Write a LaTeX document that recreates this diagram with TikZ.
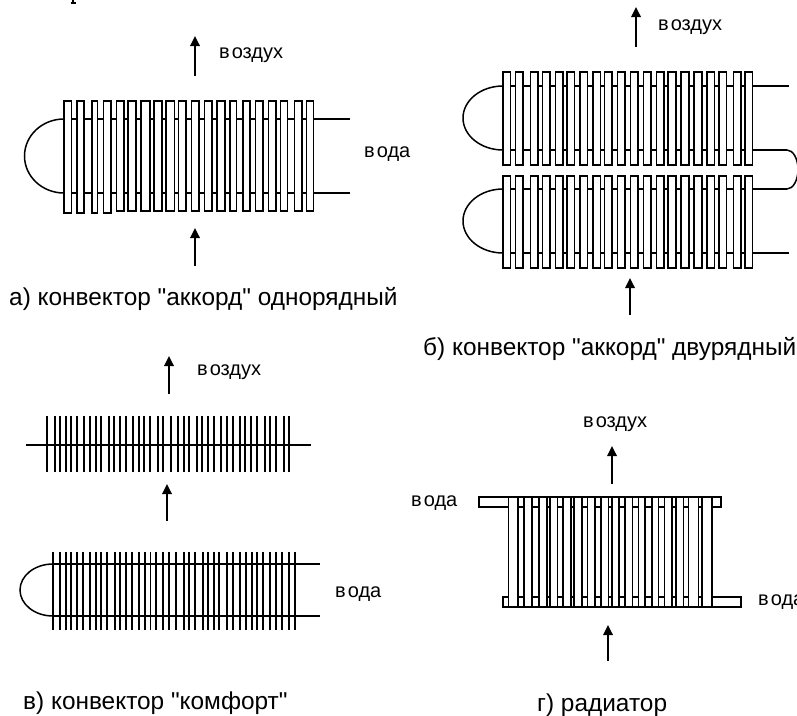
\documentclass[tikz,border=0pt]{standalone}
\usepackage{fontspec}
\setmainfont{Liberation Sans}[Ligatures=TeXOff]
\usetikzlibrary{arrows.meta}
\tikzset{
  pipeline/.style={draw=black,line width=1.5pt},
  fin/.style={draw=black,fill=white,line width=1.6pt},
  ticks/.style={draw=black,line width=1.9pt},
  flow/.style={draw=black,line width=1.8pt,-{Triangle[width=9.5pt,length=10pt]},shorten >=0pt},
  lbl/.style={anchor=base west,inner sep=0pt,font=\fontsize{20}{24}\selectfont},
  captiontext/.style={anchor=base west,inner sep=0pt,font=\fontsize{24.4}{28}\selectfont}
}
\newcommand{\vozduh}{в\kern2pt оздух}
\newcommand{\voda}{в\kern2pt ода}
\begin{document}
\begin{tikzpicture}[x=1pt,y=-1pt]
\useasboundingbox (0,0) rectangle (797,715);
\fill[white] (0,0) rectangle (797,715);
% clipped scrap of a letter at the top edge
\draw[line width=1.6pt] (73,0) -- (73,3) (70.5,3) -- (75.5,3);

% --- a
\draw[pipeline] (64,119) -- (350,119) (64,193) -- (350,193);
\draw[pipeline] (64,119) arc[start angle=90,end angle=270,x radius=39.5pt,y radius=37pt];
\foreach \l/\r/\b in {64/71.5/213,77/84/213,92/97.5/213,103.5/111/213,116.5/124/211,128/136/211,141/150/211,154/162/211,166/174.5/211,178.5/186/211,191.5/199/211,204.5/212/211,217/225/211,230/236.5/211,243/250/211,255.5/263/211,268.5/276/211,280.5/287.5/211,294.5/302/211,306.5/313.5/211}
  \draw[fin] (\l,101) rectangle (\r,\b);
\coordinate (a1) at (195,76); \coordinate (a2) at (195,36);
\coordinate (a3) at (195,266); \coordinate (a4) at (195,228);
\draw[flow] (a1) -- (a2);
\draw[flow] (a3) -- (a4);
\node[lbl] (ta1) at (219,58) {\vozduh};
\node[lbl] (ta2) at (364,157) {\voda};
\node[captiontext] (ta3) at (9,305) {а) конвектор "аккорд" однорядный};

% --- b
\draw[pipeline] (503,86) -- (789,86) (503,150) -- (787,150) (503,189) -- (787,189) (503,253) -- (789,253);
\draw[pipeline] (503,86) arc[start angle=90,end angle=270,x radius=40pt,y radius=32pt];
\draw[pipeline] (503,189) arc[start angle=90,end angle=270,x radius=40pt,y radius=32pt];
\draw[pipeline] (787,150) arc[start angle=90,end angle=-90,x radius=11pt,y radius=19.5pt];
\foreach \l/\r in {503/510.5,515.5/523,530.5/538,542.5/550,555.5/563,567/574.5,580/587.5,593/600.5,604.5/612,617.5/625,630.5/638,643.5/651,656.5/664,668/676,681/689,694/702,707/714.5,719/726.5,733.5/741,745/752.5}{
  \draw[fin] (\l,72) rectangle (\r,165);
  \draw[fin] (\l,176) rectangle (\r,268);
}
\coordinate (b1) at (636,47); \coordinate (b2) at (636,7);
\coordinate (b3) at (630,315); \coordinate (b4) at (630,278);
\draw[flow] (b1) -- (b2);
\draw[flow] (b3) -- (b4);
\node[lbl] (tb1) at (658,30) {\vozduh};
\node[captiontext] (tb2) at (423,355) {б) конвектор "аккорд" двурядный};

% --- c upper
\draw[pipeline] (26,445) -- (311,445);
\foreach \x in {47,54.7,60.3,65.7,71.3,77,84.3,90,95.7,101.3,108.7,114.3,120,125.7,133.3,139,144.3,150,158.3,163.3,170.7,178.3,184,189.3,197,202,207.7,213.7,220.7,227,232.7,239.7,245,251,256.7,265,270.3,276,283.7,288.7}
  \draw[ticks] (\x,416) -- (\x,472);
% --- c lower
\draw[pipeline] (53,564) -- (320,564) (53,616) -- (320,616);
\draw[pipeline] (53,564) arc[start angle=90,end angle=270,x radius=33pt,y radius=26pt];
\foreach \x in {53,60.3,66,71.3,77,82.7,90,95.7,101.3,107,114.7,120.3,126,131.7,139,144.7,150.5,156,162.7,169,176.3,184,189.3,195.3,202.7,208.3,213.7,219.3,227.3,233.3,240,245.7,251.7,257.3,263,270.3,276,282,288.7,295}
  \draw[ticks] (\x,552) -- (\x,630);
\coordinate (c1) at (169,394); \coordinate (c2) at (169,356);
\coordinate (c3) at (167,521); \coordinate (c4) at (167,484);
\draw[flow] (c1) -- (c2);
\draw[flow] (c3) -- (c4);
\node[lbl] (tc1) at (197,375) {\vozduh};
\node[lbl] (tc2) at (335,597) {\voda};
\node[captiontext] (tc3) at (23,709) {в) конвектор "комфорт"};

% --- d
\draw[fin] (479,497) rectangle (721,507);
\draw[fin] (503,597) rectangle (741,607);
\foreach \l/\r in {508.5/518,524/531.7,539/547,550/557.3,562.7/571,574/581.7,587.3/594.7,600.7/608.3,611.7/619,625/632.3,638.3/645,651.7/658.3,664.3/671.7,675.7/683.3,688.3/698.3,701.7/711.7}
  \draw[fin] (\l,497) rectangle (\r,607);
\coordinate (d1) at (612,484); \coordinate (d2) at (612,446);
\coordinate (d3) at (608,661); \coordinate (d4) at (608,625);
\draw[flow] (d1) -- (d2);
\draw[flow] (d3) -- (d4);
\node[lbl] (td1) at (583,427) {\vozduh};
\node[lbl] (td2) at (411,506) {\voda};
\node[lbl] (td3) at (758,605) {\voda};
\node[captiontext] (td4) at (537,711) {г) радиатор};
\end{tikzpicture}
\end{document}
